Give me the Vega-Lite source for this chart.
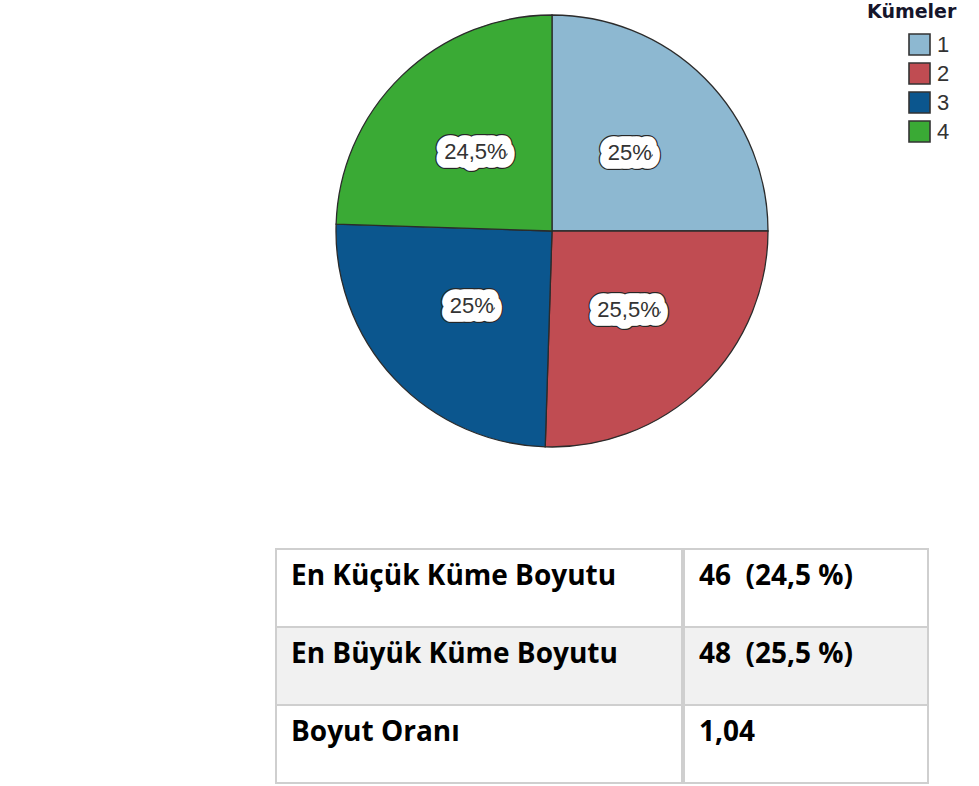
{
  "$schema": "https://vega.github.io/schema/vega-lite/v6.json",
  "padding": {"left": 275, "top": 3, "right": 0, "bottom": 0},
  "autosize": {"type": "pad"},
  "background": "#ffffff",
  "config": {"view": {"stroke": null}},
  "spacing": 98,
  "datasets": {
    "pie": [
      {"cluster": "1", "pct": 25, "label": "25%"},
      {"cluster": "2", "pct": 25.5, "label": "25,5%"},
      {"cluster": "3", "pct": 25, "label": "25%"},
      {"cluster": "4", "pct": 24.5, "label": "24,5%"}
    ],
    "table": [
      {"row": 1, "name": "En Küçük Küme Boyutu", "value": "46\u00a0 (24,5 %)"},
      {"row": 2, "name": "En Büyük Küme Boyutu", "value": "48\u00a0 (25,5 %)"},
      {"row": 3, "name": "Boyut Oranı", "value": "1,04"}
    ]
  },
  "vconcat": [
    {
      "width": 552,
      "height": 432,
      "data": {"name": "pie"},
      "encoding": {
        "theta": {"field": "pct", "type": "quantitative", "stack": true},
        "order": {"field": "cluster", "type": "ordinal"}
      },
      "layer": [
        {
          "mark": {"type": "arc", "stroke": "#2b2b2b", "strokeWidth": 1.3},
          "encoding": {
            "color": {
              "field": "cluster",
              "type": "nominal",
              "scale": {"domain": ["1", "2", "3", "4"], "range": ["#8db8d1", "#c04c52", "#0b568e", "#3aaa35"]},
              "legend": {
                "orient": "none",
                "legendX": 591,
                "legendY": -12,
                "title": "Kümeler",
                "titleFont": "DejaVu Sans",
                "titleFontSize": 19,
                "titleFontWeight": "bold",
                "titleColor": "#15152b",
                "titlePadding": 11,
                "symbolType": "square",
                "symbolSize": 441,
                "symbolStrokeColor": "#333333",
                "symbolStrokeWidth": 1.6,
                "symbolOffset": 41,
                "labelFont": "Liberation Sans",
                "labelFontSize": 22,
                "labelColor": "#333333",
                "labelOffset": 6,
                "rowPadding": 0
              }
            }
          }
        },
        {
          "mark": {"type": "text", "radius": 110, "font": "Liberation Sans", "fontSize": 22, "color": "#262626", "stroke": "#262626", "strokeWidth": 20, "strokeJoin": "round"},
          "encoding": {"text": {"field": "label"}}
        },
        {
          "mark": {"type": "text", "radius": 110, "font": "Liberation Sans", "fontSize": 22, "color": "#ffffff", "stroke": "#ffffff", "strokeWidth": 17.6, "strokeJoin": "round"},
          "encoding": {"text": {"field": "label"}}
        },
        {
          "mark": {"type": "text", "radius": 110, "font": "Liberation Sans", "fontSize": 22, "color": "#333333"},
          "encoding": {"text": {"field": "label"}}
        }
      ]
    },
    {
      "spacing": 0,
      "hconcat": [
        {
          "width": 406,
          "height": 234,
          "data": {"name": "table"},
          "layer": [
            {
              "mark": {"type": "rect", "stroke": "#cfcfcf", "strokeWidth": 2},
              "encoding": {
                "y": {"field": "row", "type": "ordinal", "axis": null, "scale": {"paddingInner": 0, "paddingOuter": 0}},
                "fill": {"condition": {"test": "datum.row === 2", "value": "#f1f1f1"}, "value": "#ffffff"}
              }
            },
            {
              "mark": {"type": "text", "align": "left", "baseline": "alphabetic", "dx": 15, "dy": 36, "font": "Open Sans", "fontWeight": "bold", "fontSize": 28, "color": "#000000"},
              "encoding": {
                "x": {"datum": 0, "type": "quantitative", "scale": {"domain": [0, 1]}, "axis": null},
                "y": {"field": "row", "type": "ordinal", "axis": null, "bandPosition": 0},
                "text": {"field": "name"}
              }
            }
          ]
        },
        {
          "width": 244,
          "height": 234,
          "data": {"name": "table"},
          "layer": [
            {
              "mark": {"type": "rect", "stroke": "#cfcfcf", "strokeWidth": 2},
              "encoding": {
                "y": {"field": "row", "type": "ordinal", "axis": null, "scale": {"paddingInner": 0, "paddingOuter": 0}},
                "fill": {"condition": {"test": "datum.row === 2", "value": "#f1f1f1"}, "value": "#ffffff"}
              }
            },
            {
              "mark": {"type": "text", "align": "left", "baseline": "alphabetic", "dx": 15, "dy": 36, "font": "Open Sans", "fontWeight": "bold", "fontSize": 28, "color": "#000000"},
              "encoding": {
                "x": {"datum": 0, "type": "quantitative", "scale": {"domain": [0, 1]}, "axis": null},
                "y": {"field": "row", "type": "ordinal", "axis": null, "bandPosition": 0},
                "text": {"field": "value"}
              }
            }
          ]
        }
      ]
    }
  ]
}
